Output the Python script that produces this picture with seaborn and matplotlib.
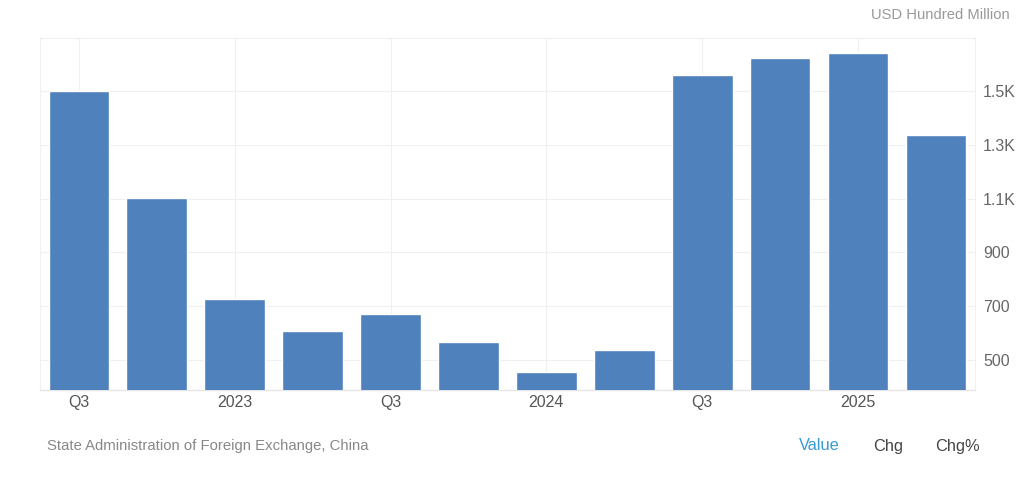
import matplotlib
matplotlib.use("Agg")
import matplotlib.pyplot as plt
import seaborn as sns
import pandas as pd

# Quarterly values, USD hundred million
quarters = ["2022Q3", "2022Q4", "2023Q1", "2023Q2", "2023Q3", "2023Q4",
            "2024Q1", "2024Q2", "2024Q3", "2024Q4", "2025Q1", "2025Q2"]
values = [1500, 1102, 727, 608, 671, 567, 455, 537, 1559, 1622, 1641, 1336]
tick_labels = ["Q3", "", "2023", "", "Q3", "", "2024", "", "Q3", "", "2025", ""]
y_ticks = [500, 700, 900, 1100, 1300, 1500]
y_tick_labels = ["500", "700", "900", "1.1K", "1.3K", "1.5K"]

sns.set_style("white")
plt.rcParams['font.family'] = ['Liberation Sans', 'DejaVu Sans']

df = pd.DataFrame({"quarter": quarters, "value": values})

fig = plt.figure(figsize=(10.24, 4.82), dpi=100)
ax = fig.add_axes([0.039, 0.191, 0.913, 0.730])

sns.barplot(data=df, x="quarter", y="value", color="#4f81bd", saturation=1,
            width=0.78, ax=ax, zorder=3)

ax.set_ylim(388, 1697)
ax.set_xlim(-0.5, 11.5)

# grid
for y in y_ticks:
    ax.axhline(y, color="#f0f0f0", lw=0.8, zorder=0)
for i, lab in enumerate(tick_labels):
    if lab:
        ax.axvline(i, color="#f0f0f0", lw=0.8, zorder=0)

ax.yaxis.tick_right()
ax.set_yticks(y_ticks)
ax.set_yticklabels(y_tick_labels, fontsize=11.5, color="#666666")
ax.set_xticks(range(len(quarters)))
ax.set_xticklabels(tick_labels, fontsize=11.5, color="#555555")
ax.tick_params(axis="both", length=0, pad=4)
ax.tick_params(axis="y", pad=6)
ax.set_xlabel("")
ax.set_ylabel("")

for side in ["left", "top", "right"]:
    ax.spines[side].set_color("#f0f0f0")
    ax.spines[side].set_linewidth(0.8)
ax.spines["bottom"].set_color("#e6e6e6")
ax.spines["bottom"].set_linewidth(1.0)

fig.text(1010 / 1024, 1 - 15 / 482, "USD Hundred Million", ha="right", va="center",
         fontsize=10.6, color="#999999")
fig.text(47 / 1024, 1 - 446 / 482, "State Administration of Foreign Exchange, China",
         ha="left", va="center", fontsize=10.7, color="#888888")
fig.text(819 / 1024, 1 - 446 / 482, "Value", ha="center", va="center",
         fontsize=11.8, color="#3a9ad9")
fig.text(888 / 1024, 1 - 446 / 482, "Chg", ha="center", va="center",
         fontsize=11.8, color="#444444")
fig.text(957 / 1024, 1 - 446 / 482, "Chg%", ha="center", va="center",
         fontsize=11.8, color="#444444")

fig.savefig("out.png", dpi=100)
